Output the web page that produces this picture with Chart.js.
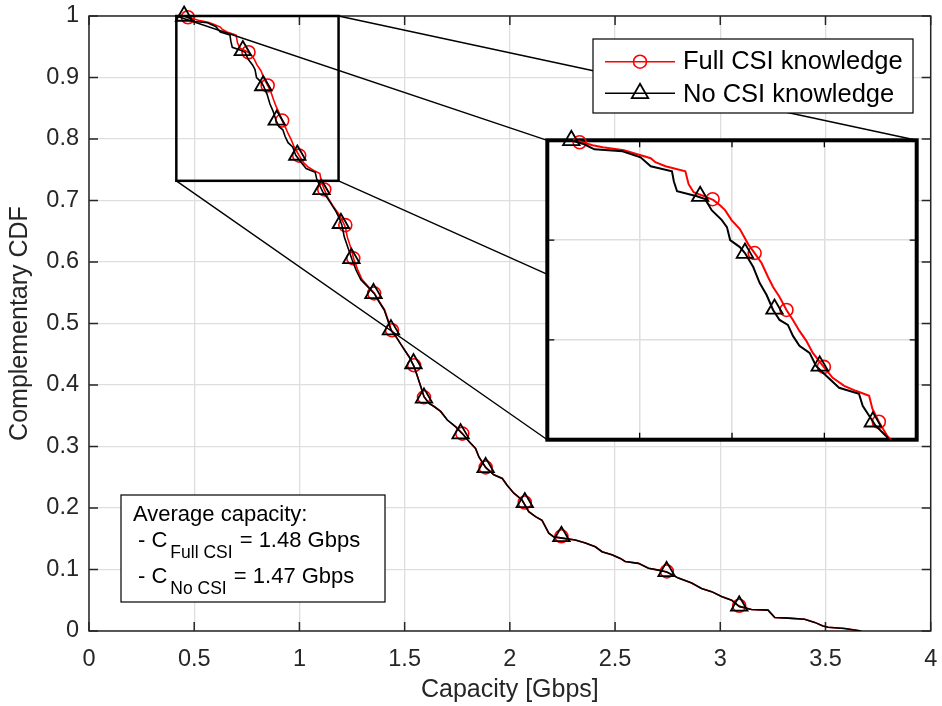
<!DOCTYPE html>
<html>
<head>
<meta charset="utf-8">
<title>Capacity CCDF</title>
<script src="https://cdn.jsdelivr.net/npm/chart.js@4.4.0/dist/chart.umd.min.js"></script>
<style>
  html, body { margin: 0; padding: 0; background: #fff; }
  #wrap { position: relative; width: 942px; height: 706px; }
  #main { position: absolute; left: 0; top: 0; }
  #zoom { position: absolute; left: 536px; top: 129px; }
</style>
</head>
<body>
<div id="wrap">
  <canvas id="main" width="942" height="706"></canvas>
  <canvas id="zoom" width="392" height="322"></canvas>
</div>
<script>
// Complementary CDF of the capacity, full CSI vs no CSI
var seriesNames = ['Full CSI knowledge', 'No CSI knowledge'];
var avgCapacity = [1.48, 1.47];

var fullCsiX = [0.462, 0.498, 0.520, 0.566, 0.595, 0.624, 0.634, 0.656, 0.699, 0.706, 0.717, 0.745, 0.760, 0.774,
    0.785, 0.799, 0.817, 0.835, 0.849, 0.864, 0.878, 0.889, 0.903, 0.918, 0.932, 0.946, 0.961, 0.975, 0.997, 1.018,
    1.043, 1.068, 1.097, 1.104, 1.118, 1.136, 1.158, 1.185, 1.203, 1.218, 1.228, 1.246, 1.259, 1.276, 1.297, 1.327,
    1.357, 1.381, 1.405, 1.421, 1.437, 1.458, 1.490, 1.521, 1.545, 1.561, 1.577, 1.592, 1.616, 1.640, 1.671, 1.703,
    1.743, 1.774, 1.806, 1.837, 1.853, 1.885, 1.924, 1.964, 1.987, 2.019, 2.058, 2.090, 2.122, 2.153, 2.185, 2.209,
    2.248, 2.311, 2.359, 2.406, 2.438, 2.485, 2.525, 2.548, 2.611, 2.659, 2.706, 2.746, 2.801, 2.864, 2.911, 2.959,
    3.006, 3.054, 3.090, 3.148, 3.227, 3.259, 3.322, 3.401, 3.449, 3.488, 3.512, 3.591, 3.670];
var fullCsiY = [1.000, 0.995, 0.993, 0.990, 0.986, 0.982, 0.978, 0.974, 0.969, 0.956, 0.948, 0.943, 0.940, 0.935,
    0.930, 0.920, 0.911, 0.896, 0.887, 0.877, 0.863, 0.853, 0.843, 0.830, 0.820, 0.809, 0.799, 0.787, 0.774, 0.762,
    0.754, 0.749, 0.744, 0.731, 0.718, 0.704, 0.692, 0.679, 0.668, 0.657, 0.640, 0.621, 0.604, 0.588, 0.572, 0.560,
    0.549, 0.535, 0.522, 0.506, 0.489, 0.479, 0.462, 0.446, 0.430, 0.414, 0.397, 0.381, 0.370, 0.365, 0.357, 0.343,
    0.332, 0.321, 0.308, 0.297, 0.283, 0.266, 0.254, 0.248, 0.237, 0.224, 0.213, 0.194, 0.186, 0.180, 0.159, 0.153,
    0.151, 0.148, 0.143, 0.137, 0.129, 0.124, 0.118, 0.113, 0.110, 0.102, 0.099, 0.096, 0.086, 0.078, 0.069, 0.064,
    0.056, 0.050, 0.040, 0.035, 0.034, 0.022, 0.021, 0.019, 0.014, 0.008, 0.006, 0.004, 0.000];

var noCsiX = [0.451, 0.480, 0.502, 0.563, 0.602, 0.624, 0.670, 0.674, 0.681, 0.724, 0.742, 0.756, 0.778, 0.789,
    0.796, 0.817, 0.828, 0.846, 0.860, 0.875, 0.889, 0.903, 0.921, 0.932, 0.946, 0.968, 0.982, 1.004, 1.032, 1.075,
    1.083, 1.097, 1.111, 1.133, 1.150, 1.174, 1.190, 1.202, 1.213, 1.234, 1.250, 1.269, 1.292, 1.324, 1.355, 1.379,
    1.403, 1.419, 1.435, 1.458, 1.490, 1.521, 1.545, 1.561, 1.577, 1.592, 1.616, 1.640, 1.671, 1.703, 1.743, 1.774,
    1.806, 1.837, 1.853, 1.885, 1.924, 1.964, 1.987, 2.019, 2.058, 2.090, 2.122, 2.153, 2.185, 2.209, 2.248, 2.311,
    2.359, 2.406, 2.438, 2.485, 2.525, 2.548, 2.611, 2.659, 2.706, 2.746, 2.801, 2.864, 2.911, 2.959, 3.006, 3.054,
    3.090, 3.148, 3.227, 3.259, 3.322, 3.401, 3.449, 3.488, 3.512, 3.591, 3.670];
var noCsiY = [1.000, 0.996, 0.991, 0.989, 0.983, 0.974, 0.969, 0.959, 0.949, 0.944, 0.941, 0.930, 0.920, 0.913,
    0.900, 0.893, 0.887, 0.873, 0.857, 0.845, 0.830, 0.820, 0.815, 0.804, 0.794, 0.787, 0.774, 0.764, 0.752, 0.746,
    0.734, 0.724, 0.714, 0.704, 0.695, 0.682, 0.671, 0.660, 0.641, 0.620, 0.604, 0.587, 0.571, 0.560, 0.549, 0.535,
    0.522, 0.506, 0.489, 0.479, 0.462, 0.446, 0.430, 0.414, 0.397, 0.381, 0.370, 0.365, 0.357, 0.343, 0.332, 0.321,
    0.308, 0.297, 0.283, 0.266, 0.254, 0.248, 0.237, 0.224, 0.213, 0.194, 0.186, 0.180, 0.159, 0.153, 0.151, 0.148,
    0.143, 0.137, 0.129, 0.124, 0.118, 0.113, 0.110, 0.102, 0.099, 0.096, 0.086, 0.078, 0.069, 0.064, 0.056, 0.050,
    0.040, 0.035, 0.034, 0.022, 0.021, 0.019, 0.014, 0.008, 0.006, 0.004, 0.000];

// marker positions along each curve
var fullCsiMarkX = [0.470, 0.758, 0.849, 0.918, 0.999, 1.118, 1.218, 1.256, 1.355, 1.440, 1.545, 1.592, 1.774, 1.885, 2.071, 2.245, 2.746, 3.090];
var fullCsiMarkY = [0.998, 0.941, 0.887, 0.830, 0.773, 0.718, 0.660, 0.606, 0.549, 0.489, 0.432, 0.380, 0.321, 0.266, 0.209, 0.154, 0.097, 0.041];
var noCsiMarkX = [0.452, 0.731, 0.828, 0.892, 0.990, 1.105, 1.197, 1.247, 1.352, 1.435, 1.542, 1.592, 1.766, 1.885, 2.071, 2.245, 2.745, 3.090];
var noCsiMarkY = [1.000, 0.944, 0.887, 0.831, 0.774, 0.718, 0.663, 0.606, 0.549, 0.490, 0.435, 0.379, 0.321, 0.266, 0.209, 0.154, 0.097, 0.041];

var xTickLabels = ['0', '0.5', '1', '1.5', '2', '2.5', '3', '3.5', '4'];
var yTickLabels = ['0', '0.1', '0.2', '0.3', '0.4', '0.5', '0.6', '0.7', '0.8', '0.9', '1'];

// region shown magnified in the inset
var zoomBox = { x0: 0.415, x1: 1.186, y0: 0.732, y1: 1.0 };

var FONT = "'Liberation Sans', Arial, Helvetica, sans-serif";
var AXIS_COLOR = '#262626';
var GRID_COLOR = '#dedede';
Chart.defaults.font.family = FONT;

function toPoints(xs, ys) {
    return xs.map(function (x, i) { return { x: x, y: ys[i] }; });
}

function makeDatasets(lineWidth, markerClip) {
    return [{
        label: seriesNames[1] + ' markers',
        data: toPoints(noCsiMarkX, noCsiMarkY),
        showLine: false,
        pointStyle: 'triangle',
        pointRadius: 9.5,
        pointBorderWidth: 1.8,
        pointBorderColor: '#000',
        pointBackgroundColor: 'rgba(0,0,0,0)',
        clip: markerClip,
        order: 0
    }, {
        label: seriesNames[1],
        data: toPoints(noCsiX, noCsiY),
        showLine: true,
        borderColor: '#000',
        borderWidth: lineWidth,
        pointRadius: 0,
        order: 1
    }, {
        label: seriesNames[0] + ' markers',
        data: toPoints(fullCsiMarkX, fullCsiMarkY),
        showLine: false,
        pointStyle: 'circle',
        pointRadius: 6.5,
        pointBorderWidth: 1.6,
        pointBorderColor: '#ff0000',
        pointBackgroundColor: 'rgba(0,0,0,0)',
        clip: markerClip,
        order: 2
    }, {
        label: seriesNames[0],
        data: toPoints(fullCsiX, fullCsiY),
        showLine: true,
        borderColor: '#ff0000',
        borderWidth: lineWidth,
        pointRadius: 0,
        order: 3
    }];
}

// keep tick labels from pushing the plot area inwards
function noEdgePadding(s) {
    s.paddingLeft = 0;
    s.paddingRight = 0;
    s.paddingTop = 0;
    s.paddingBottom = 0;
}

// short tick marks pointing into the plot on all four sides
function drawInnerTicks(chart, len, color, width) {
    var ctx = chart.ctx, a = chart.chartArea;
    var xs = chart.scales.x, ys = chart.scales.y;
    ctx.save();
    ctx.strokeStyle = color;
    ctx.lineWidth = width;
    ctx.beginPath();
    xs.ticks.forEach(function (t) {
        var px = xs.getPixelForValue(t.value);
        ctx.moveTo(px, a.bottom); ctx.lineTo(px, a.bottom - len);
        ctx.moveTo(px, a.top); ctx.lineTo(px, a.top + len);
    });
    ys.ticks.forEach(function (t) {
        var py = ys.getPixelForValue(t.value);
        ctx.moveTo(a.left, py); ctx.lineTo(a.left + len, py);
        ctx.moveTo(a.right, py); ctx.lineTo(a.right - len, py);
    });
    ctx.stroke();
    ctx.restore();
}

// ---------- inset ----------
var insetFrame = {
    id: 'insetFrame',
    beforeDraw: function (chart) {
        var a = chart.chartArea, ctx = chart.ctx;
        ctx.save();
        ctx.fillStyle = '#fff';
        ctx.fillRect(a.left, a.top, a.right - a.left, a.bottom - a.top);
        ctx.restore();
    },
    beforeDatasetsDraw: function (chart) {
        var a = chart.chartArea, ctx = chart.ctx;
        drawInnerTicks(chart, 7, '#000', 1.3);
        ctx.save();
        ctx.strokeStyle = '#000';
        ctx.lineWidth = 4;
        ctx.strokeRect(a.left, a.top, a.right - a.left, a.bottom - a.top);
        ctx.restore();
    }
};

var insetChart = new Chart(document.getElementById('zoom'), {
    type: 'scatter',
    data: { datasets: makeDatasets(2, 12) },
    options: {
        responsive: false,
        animation: false,
        layout: { padding: 10 },
        plugins: { legend: { display: false }, tooltip: { enabled: false } },
        scales: {
            x: {
                type: 'linear', min: 0.4, max: 1.2,
                ticks: { display: false, stepSize: 0.2 },
                grid: { color: GRID_COLOR, lineWidth: 1.5, drawTicks: false },
                border: { display: false },
                afterFit: function (s) { s.height = 0; noEdgePadding(s); }
            },
            y: {
                type: 'linear', min: 0.7, max: 1.0,
                ticks: { display: false, stepSize: 0.1 },
                grid: { color: GRID_COLOR, lineWidth: 1.5, drawTicks: false },
                border: { display: false },
                afterFit: function (s) { s.width = 0; noEdgePadding(s); }
            }
        }
    },
    plugins: [insetFrame]
});

// ---------- main plot decorations ----------
var axesBox = {
    id: 'axesBox',
    beforeDraw: function (chart) {
        var ctx = chart.ctx;
        ctx.save();
        ctx.fillStyle = '#fff';
        ctx.fillRect(0, 0, chart.width, chart.height);
        ctx.restore();
    },
    beforeDatasetsDraw: function (chart) {
        var a = chart.chartArea, ctx = chart.ctx;
        drawInnerTicks(chart, 9, AXIS_COLOR, 1.5);
        ctx.save();
        ctx.strokeStyle = AXIS_COLOR;
        ctx.lineWidth = 1.5;
        ctx.strokeRect(a.left, a.top, a.right - a.left, a.bottom - a.top);
        ctx.restore();
    }
};

var zoomGuide = {
    id: 'zoomGuide',
    afterDatasetsDraw: function (chart) {
        var ctx = chart.ctx, xs = chart.scales.x, ys = chart.scales.y;
        var bl = xs.getPixelForValue(zoomBox.x0), br = xs.getPixelForValue(zoomBox.x1);
        var bt = ys.getPixelForValue(zoomBox.y1), bb = ys.getPixelForValue(zoomBox.y0);
        var cv = document.getElementById('zoom');
        var ia = insetChart.chartArea;
        var il = cv.offsetLeft + ia.left, ir = cv.offsetLeft + ia.right;
        var it = cv.offsetTop + ia.top, ib = cv.offsetTop + ia.bottom;
        ctx.save();
        ctx.strokeStyle = '#000';
        ctx.lineWidth = 1.4;
        ctx.beginPath();
        ctx.moveTo(bl, bt); ctx.lineTo(il, it);
        ctx.moveTo(br, bt); ctx.lineTo(ir, it);
        ctx.moveTo(bl, bb); ctx.lineTo(il, ib);
        ctx.moveTo(br, bb); ctx.lineTo(ir, ib);
        ctx.stroke();
        ctx.lineWidth = 2.5;
        ctx.strokeRect(bl, bt, br - bl, bb - bt);
        ctx.restore();
    }
};

var legendBox = {
    id: 'legendBox',
    afterDatasetsDraw: function (chart) {
        var ctx = chart.ctx;
        var left = 593, top = 39, w = 320, h = 74;
        ctx.save();
        ctx.fillStyle = '#fff';
        ctx.fillRect(left, top, w, h);
        ctx.strokeStyle = '#000';
        ctx.lineWidth = 1.2;
        ctx.strokeRect(left, top, w, h);

        var rows = [
            { name: seriesNames[0], color: '#ff0000', y: 61.7, base: 69, mark: 'circle' },
            { name: seriesNames[1], color: '#000000', y: 93.3, base: 101.5, mark: 'triangle' }
        ];
        rows.forEach(function (r) {
            ctx.strokeStyle = r.color;
            ctx.lineWidth = 1.6;
            ctx.beginPath();
            ctx.moveTo(605, r.y); ctx.lineTo(675, r.y);
            ctx.stroke();
            ctx.lineWidth = r.mark === 'circle' ? 1.6 : 1.8;
            ctx.beginPath();
            if (r.mark === 'circle') {
                ctx.arc(640, r.y, 6.5, 0, Math.PI * 2);
            } else {
                ctx.moveTo(640, r.y - 9.5);
                ctx.lineTo(640 + 8.2, r.y + 4.75);
                ctx.lineTo(640 - 8.2, r.y + 4.75);
                ctx.closePath();
            }
            ctx.stroke();
            ctx.fillStyle = '#000';
            ctx.font = '25.5px ' + FONT;
            ctx.textBaseline = 'alphabetic';
            ctx.fillText(r.name, 683, r.base);
        });
        ctx.restore();
    }
};

var avgNote = {
    id: 'avgNote',
    afterDatasetsDraw: function (chart) {
        var ctx = chart.ctx;
        var big = '22px ' + FONT, small = '17.5px ' + FONT;
        ctx.save();
        ctx.fillStyle = '#fff';
        ctx.fillRect(121, 495, 264, 107);
        ctx.strokeStyle = '#000';
        ctx.lineWidth = 1.2;
        ctx.strokeRect(121, 495, 264, 107);
        ctx.fillStyle = '#000';
        ctx.textBaseline = 'alphabetic';
        ctx.font = big;
        ctx.fillText('Average capacity:', 133, 521);

        function line(base, sub, value) {
            var x = 138;
            ctx.font = big;
            ctx.fillText('- C', x, base);
            x += ctx.measureText('- C').width + 3;
            ctx.font = small;
            ctx.fillText(sub, x, base + 10.5);
            x += ctx.measureText(sub).width;
            ctx.font = big;
            ctx.fillText(' = ' + value.toFixed(2) + ' Gbps', x + 1, base);
        }
        line(547, 'Full CSI', avgCapacity[0]);
        line(583, 'No CSI', avgCapacity[1]);
        ctx.restore();
    }
};

var mainChart = new Chart(document.getElementById('main'), {
    type: 'scatter',
    data: { datasets: makeDatasets(1.6, false) },
    options: {
        responsive: false,
        animation: false,
        layout: { padding: { top: 16, right: 9, left: 0, bottom: 0 } },
        plugins: { legend: { display: false }, tooltip: { enabled: false } },
        scales: {
            x: {
                type: 'linear', min: 0, max: 4,
                ticks: {
                    stepSize: 0.5, padding: 14, color: AXIS_COLOR, font: { size: 23.5 },
                    callback: function (v) { return xTickLabels[Math.round(v / 0.5)]; }
                },
                grid: { color: GRID_COLOR, lineWidth: 1.3, drawTicks: false },
                border: { display: false },
                title: {
                    display: true, text: 'Capacity [Gbps]', color: AXIS_COLOR,
                    font: { size: 25 }, padding: { top: 0, bottom: 1 }
                },
                afterFit: function (s) { s.height = 75; noEdgePadding(s); }
            },
            y: {
                type: 'linear', min: 0, max: 1,
                ticks: {
                    stepSize: 0.1, padding: 10, color: AXIS_COLOR, font: { size: 23.5 },
                    callback: function (v) { return yTickLabels[Math.round(v * 10)]; }
                },
                grid: { color: GRID_COLOR, lineWidth: 1.3, drawTicks: false },
                border: { display: false },
                title: {
                    display: true, text: 'Complementary CDF', color: AXIS_COLOR,
                    font: { size: 25 }, padding: { top: 5, bottom: 0 }
                },
                afterFit: function (s) { s.width = 89; noEdgePadding(s); }
            }
        }
    },
    plugins: [axesBox, zoomGuide, legendBox, avgNote]
});
</script>
</body>
</html>
